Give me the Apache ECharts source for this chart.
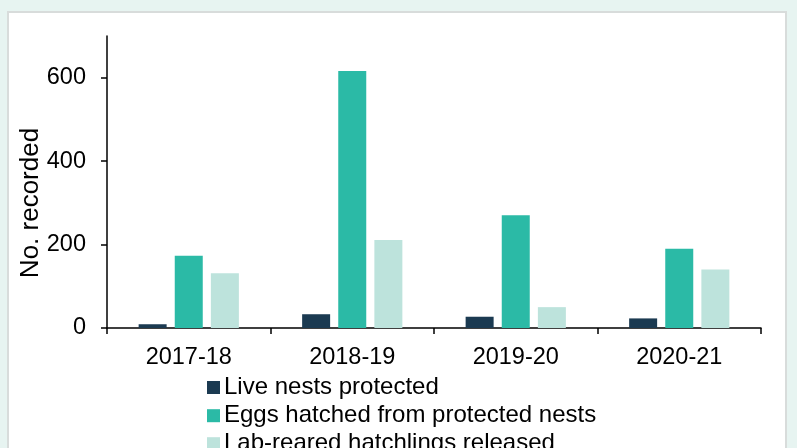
<!DOCTYPE html>
<html>
<head>
<meta charset="utf-8">
<script src="https://cdn.jsdelivr.net/npm/echarts@6/dist/echarts.min.js"></script>
<style>
html,body{margin:0;padding:0;background:#e7f4f1;}
#c{width:797px;height:448px;}
</style>
</head>
<body>
<div id="c"></div>
<script>
const categories = ['2017-18', '2018-19', '2019-20', '2020-21'];
const liveNests = [9, 33, 27, 23];
const eggsHatched = [173, 616, 270, 190];
const labReared = [131, 211, 50, 140];
const yTicks = [0, 200, 400, 600];
const seriesNames = ['Live nests protected', 'Eggs hatched from protected nests', 'Lab-reared hatchlings released'];
const seriesColors = ['#1b3a51', '#2bbaa6', '#bde3dc'];

const font = 'Liberation Sans, Arial, sans-serif';
const fs = 23.5;
const legendTops = [375.5, 403.7, 431.7];
const chart = echarts.init(document.getElementById('c'), null, {renderer: 'canvas'});
chart.setOption({
  backgroundColor: '#e7f4f1',
  animation: false,
  graphic: [
    {type: 'rect', z: -10, shape: {x: 8, y: 12, width: 778, height: 460},
     style: {fill: '#ffffff', stroke: '#d8dcdb', lineWidth: 2}},
    {type: 'text', x: 31, y: 203, rotation: Math.PI / 2,
     style: {text: 'No. recorded', font: '26px ' + font, fill: '#000', align: 'center', verticalAlign: 'middle'}}
  ],
  grid: {left: 107, right: 36, top: 36, bottom: 120, containLabel: false},
  legend: seriesNames.map((n, i) => ({
    orient: 'vertical', left: 207, top: legendTops[i],
    itemWidth: 13, itemHeight: 13, icon: 'rect', padding: 0, itemGap: 0,
    textStyle: {fontFamily: font, fontSize: 24, color: '#000', padding: [0, 0, 0, -1]},
    data: [n]
  })),
  xAxis: {
    type: 'category', data: categories,
    axisLine: {lineStyle: {color: '#000', width: 1.5}},
    axisTick: {show: true, length: 6, lineStyle: {color: '#000', width: 1.5}},
    axisLabel: {fontFamily: font, fontSize: fs, color: '#000', margin: 18}
  },
  yAxis: {
    type: 'value', min: 0, max: 700, interval: 100,
    splitLine: {show: false},
    axisLine: {show: true, lineStyle: {color: '#000', width: 1.5}},
    axisTick: {show: true, length: 6, lineStyle: {color: '#000', width: 1.5}, customValues: yTicks},
    axisLabel: {fontFamily: font, fontSize: fs, color: '#000', margin: 21, customValues: yTicks}
  },
  series: [
    {name: seriesNames[0], type: 'bar', data: liveNests, itemStyle: {color: seriesColors[0]}, barWidth: 28, barGap: '29%'},
    {name: seriesNames[1], type: 'bar', data: eggsHatched, itemStyle: {color: seriesColors[1]}, barWidth: 28, barGap: '29%'},
    {name: seriesNames[2], type: 'bar', data: labReared, itemStyle: {color: seriesColors[2]}, barWidth: 28, barGap: '29%'}
  ]
});
</script>
</body>
</html>
